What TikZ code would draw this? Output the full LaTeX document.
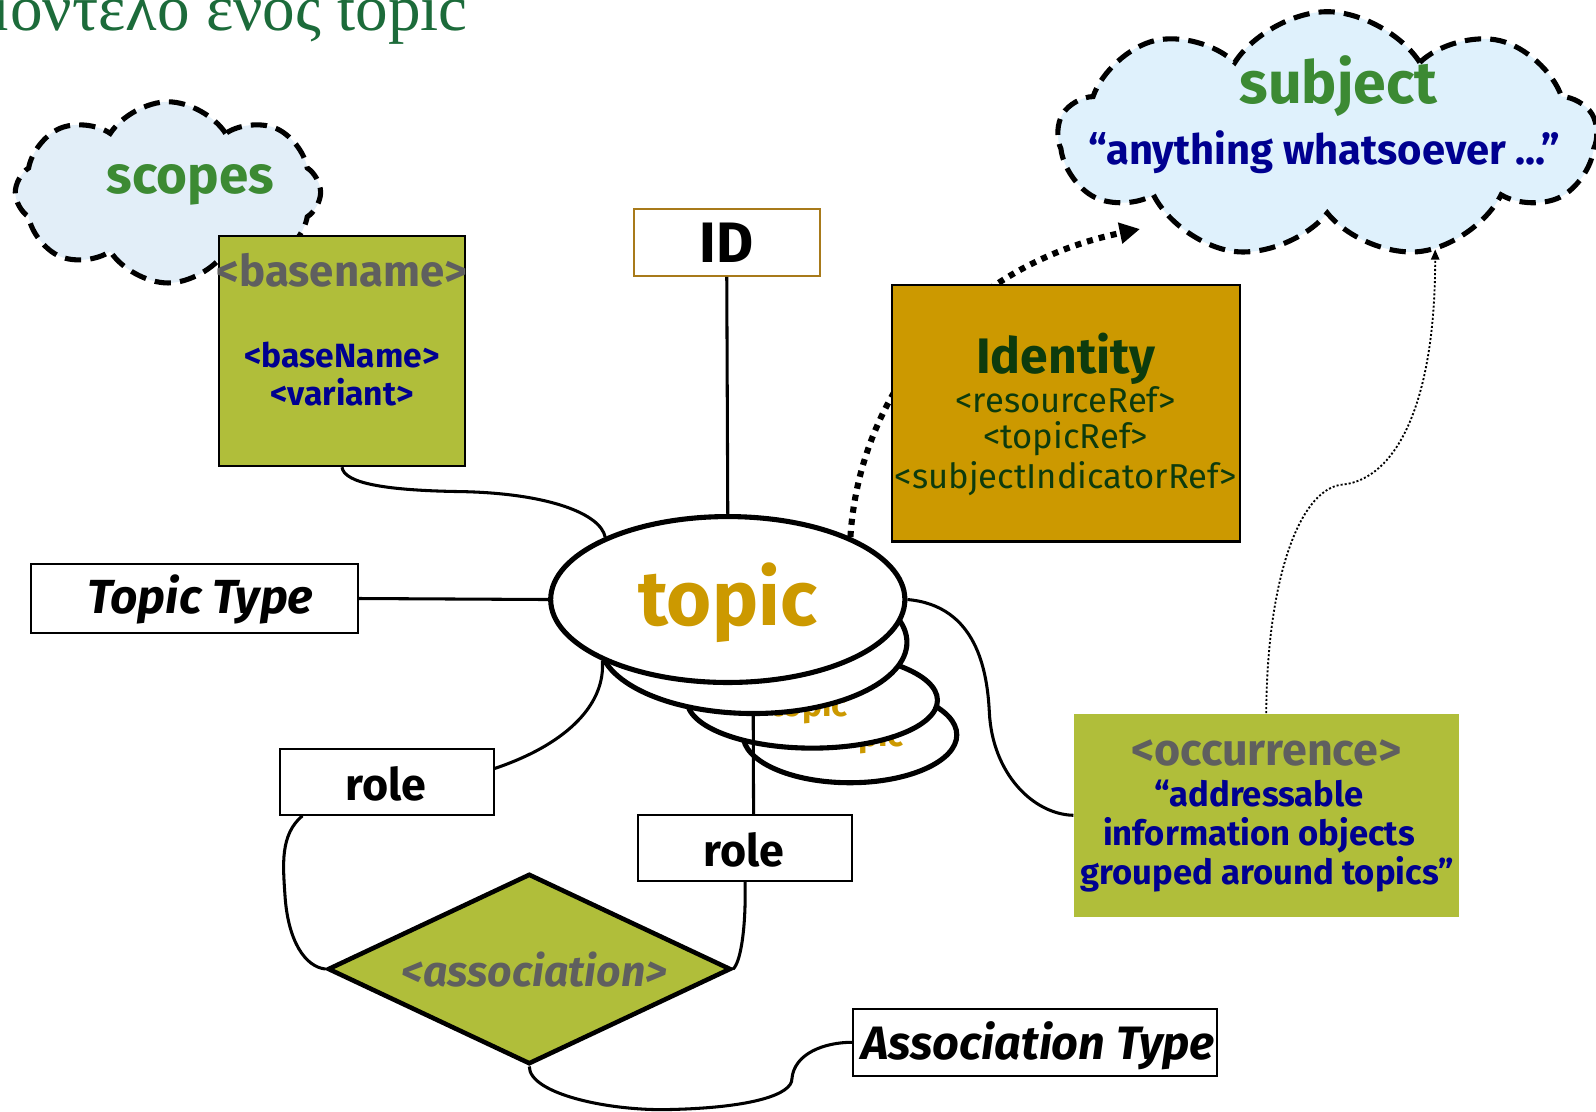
\documentclass[tikz,border=0pt]{standalone}
\usepackage{fontspec}
\setmainfont{Fira Sans}
\newfontfamily\greekfont{Liberation Serif}
\usetikzlibrary{shapes.geometric, shapes.symbols, arrows.meta}

\definecolor{titlegreen}{HTML}{1C6B3A}
\definecolor{cloudgreen}{HTML}{3C8A33}
\definecolor{scopeblue}{HTML}{E2EEF8}
\definecolor{subjectblue}{HTML}{DFF1FC}
\definecolor{leafgreen}{HTML}{B0BE3A}
\definecolor{gold}{HTML}{CC9900}
\definecolor{idbrown}{HTML}{A87A1A}
\definecolor{taggrey}{HTML}{5F5F5F}
\definecolor{tagblue}{HTML}{000090}
\definecolor{darkleaf}{HTML}{0D3B0D}

\tikzstyle{cloudy} = [cloud, cloud ignores aspect, cloud puff arc=115, draw=black, line width=2.5pt, dash pattern=on 8pt off 4.5pt, inner sep=0pt]
\tikzstyle{box} = [rectangle, draw=black, line width=1pt, fill=white, inner sep=0pt]
\tikzstyle{leafbox} = [rectangle, fill=leafgreen, inner sep=0pt]
\tikzstyle{topicshape} = [ellipse, draw=black, line width=2.5pt, fill=white, inner sep=0pt]
\tikzstyle{assocshape} = [diamond, draw=black, line width=2.25pt, fill=leafgreen, inner sep=0pt]
\tikzstyle{txt} = [inner sep=0pt, anchor=base]
\tikzstyle{link} = [line width=1.5pt]
\tikzstyle{idlink} = [line width=3pt, dash pattern=on 3pt off 3pt, -{Triangle[length=10pt,width=10pt]}]
\tikzstyle{sublink} = [line width=0.9pt, dash pattern=on 1pt off 1pt, -{Triangle[length=5pt,width=4pt]}]

\begin{document}
\begin{tikzpicture}[x=0.5pt, y=-0.5pt]
\useasboundingbox (0,0) rectangle (1568,1092);

% title
\node (title) [inner sep=0pt, anchor=base east, text=titlegreen, font=\greekfont\fontsize{32}{34}\selectfont] at (460,30) {μοντελο ενος topic};

% clouds
\node (scopes) [cloudy, fill=scopeblue, cloud puffs=8, minimum width=150pt, minimum height=89pt] at (165,189) {};
\node (scopestext) [txt, text=cloudgreen, font=\bfseries\fontsize{26}{28}\selectfont] at (187,190) {scopes};
\node (subject) [cloudy, fill=subjectblue, cloud puffs=9, minimum width=264pt, minimum height=121.5pt] at (1304,133) {};
\node (subjecttext) [txt, text=cloudgreen, font=\bfseries\fontsize{29}{31}\selectfont] at (1315,102) {subject};
\node (anything) [txt, text=tagblue, font=\bfseries\fontsize{20.5}{22}\selectfont] at (1301,162) {“anything whatsoever ...”};
\coordinate (subjin) at (1120,225);
\coordinate (subjin2) at (1410,245);

% topic stack
\node (topic4) [topicshape, minimum width=105pt, minimum height=47pt] at (835,722) {};
\node (topic4text) [txt, text=gold, font=\bfseries\fontsize{16.5}{18}\selectfont] at (850,733) {topic};
\node (topic3) [topicshape, minimum width=123pt, minimum height=47pt] at (798,688) {};
\node (topic3text) [txt, text=gold, font=\bfseries\fontsize{16.5}{18}\selectfont] at (795,704) {topic};
\node (topic2) [topicshape, minimum width=151pt, minimum height=70pt] at (740,631) {};
\node (topic) [topicshape, minimum width=174pt, minimum height=81.5pt] at (715,589) {};
\node (topictext) [txt, text=gold, font=\bfseries\fontsize{38}{40}\selectfont] at (715,615) {topic};

% identity goes behind its box
\draw [idlink] (topic.27) .. controls (845,380) and (950,260) .. (subjin);

% boxes
\node (basename) [leafbox, draw=black, line width=1pt, minimum width=121pt, minimum height=113pt] at (336,345) {};
\node (basenametext) [txt, text=taggrey, font=\bfseries\fontsize{21.5}{23}\selectfont] at (336,281) {<basename>};
\node (basenamesub) [txt, text=tagblue, font=\bfseries\fontsize{16.5}{18}\selectfont] at (336,361) {<baseName>};
\node (variant) [txt, text=tagblue, font=\bfseries\fontsize{16.5}{18}\selectfont] at (336,398) {<variant>};

\node (id) [box, draw=idbrown, minimum width=91.5pt, minimum height=33pt] at (714,238) {};
\node (idtext) [txt, font=\bfseries\fontsize{28}{30}\selectfont] at (714,258) {ID};

\node (identity) [leafbox, fill=gold, draw=black, line width=1pt, minimum width=171pt, minimum height=126pt] at (1047,406) {};
\node (identitytext) [txt, text=darkleaf, font=\bfseries\fontsize{24.5}{26}\selectfont] at (1047,367) {Identity};
\node (resref) [txt, text=darkleaf, font=\fontsize{17}{19}\selectfont] at (1047,405) {<resourceRef>};
\node (topicref) [txt, text=darkleaf, font=\fontsize{17}{19}\selectfont] at (1047,441) {<topicRef>};
\node (subjref) [txt, text=darkleaf, font=\fontsize{17}{19}\selectfont] at (1047,480) {<subjectIndicatorRef>};

\node (topictype) [box, minimum width=160.5pt, minimum height=33.5pt] at (191,588) {};
\node (topictypetext) [txt, font=\bfseries\itshape\fontsize{23.5}{25}\selectfont] at (197,603) {Topic Type};

\node (role1) [box, minimum width=105pt, minimum height=32.5pt] at (380,768) {};
\node (role1text) [txt, font=\bfseries\fontsize{22}{24}\selectfont] at (379,786) {role};
\node (role2) [box, minimum width=105pt, minimum height=32.5pt] at (732,833) {};
\node (role2text) [txt, font=\bfseries\fontsize{22}{24}\selectfont] at (731,851) {role};

\node (assoc) [assocshape, minimum width=198pt, minimum height=93.5pt] at (520,952) {};
\node (assoctext) [txt, text=taggrey, font=\bfseries\itshape\fontsize{21}{23}\selectfont] at (525,969) {<association>};

\node (assoctype) [box, minimum width=179pt, minimum height=33pt] at (1017,1024) {};
\node (assoctypetext) [txt, font=\bfseries\itshape\fontsize{23}{25}\selectfont] at (1020,1041) {Association Type};

\node (occ) [leafbox, minimum width=189pt, minimum height=100pt] at (1244,801) {};
\node (occtext) [txt, text=taggrey, font=\bfseries\fontsize{22}{24}\selectfont] at (1244,752) {<occurrence>};
\node (occline1) [txt, text=tagblue, font=\bfseries\fontsize{17}{19}\selectfont] at (1237,792) {“addressable};
\node (occline2) [txt, text=tagblue, font=\bfseries\fontsize{17}{19}\selectfont] at (1237,831) {information objects};
\node (occline3) [txt, text=tagblue, font=\bfseries\fontsize{17}{19}\selectfont] at (1245,869) {grouped around topics”};

% connectors
\draw [link] (id.south) -- (topic.north);
\draw [link] (topictype.east) -- (topic.west);
\draw [link] (basename.south) .. controls (338,475) and (380,482) .. (455,483) .. controls (540,485) and (590,505) .. (topic.153);
\draw [link] (role1.7) .. controls (560,730) and (595,690) .. (topic.206);
\draw [link] (role2.76) -- (topic2.south);
\draw [link] (role1.202) .. controls (275,820) and (278,850) .. (280,880) .. controls (283,925) and (300,950) .. (assoc.west);
\draw [link] (role2.south) .. controls (733,910) and (728,945) .. (assoc.east);
\draw [link] (assoc.south) .. controls (520,1075) and (600,1092) .. (660,1090) .. controls (740,1088) and (778,1075) .. (778,1060) .. controls (780,1035) and (810,1024) .. (assoctype.west);
\draw [link] (topic.east) .. controls (960,595) and (970,660) .. (972,700) .. controls (975,760) and (1015,800) .. (occ.west);
\draw [sublink] (occ.north) .. controls (1245,560) and (1280,478) .. (1320,476) .. controls (1370,470) and (1410,400) .. (subjin2);
\end{tikzpicture}
\end{document}
